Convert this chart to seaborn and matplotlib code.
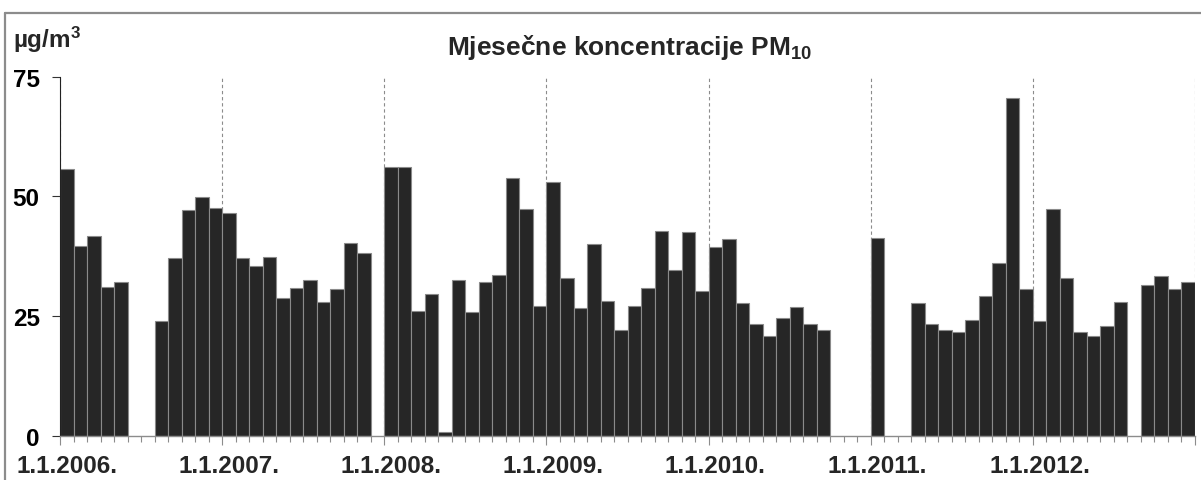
import numpy as np
import pandas as pd
import matplotlib
matplotlib.use('Agg')
import matplotlib.pyplot as plt
import seaborn as sns
from matplotlib.lines import Line2D

nan = np.nan

# mjesečne srednje vrijednosti PM10 (µg/m3), nan = nema podataka
years = [2006, 2007, 2008, 2009, 2010, 2011, 2012]
pm10_2006 = [55.7, 39.6, 41.8, 31.1, 32.1, nan, nan, 24.0, 37.2, 47.1, 49.9, 47.5]
pm10_2007 = [46.5, 37.2, 35.4, 37.4, 28.9, 30.9, 32.6, 27.9, 30.7, 40.3, 38.3, nan]
pm10_2008 = [56.1, 56.1, 26.0, 29.7, 0.9, 32.6, 25.8, 32.1, 33.7, 53.9, 47.3, 27.2]
pm10_2009 = [53.0, 32.9, 26.7, 40.1, 28.2, 22.2, 27.2, 30.9, 42.8, 34.6, 42.5, 30.2]
pm10_2010 = [39.4, 41.1, 27.7, 23.3, 20.9, 24.7, 26.9, 23.3, 22.2, nan, nan, nan]
pm10_2011 = [41.3, nan, nan, 27.7, 23.3, 22.2, 21.8, 24.2, 29.2, 36.1, 70.5, 30.7]
pm10_2012 = [24.0, 47.3, 32.9, 21.8, 20.9, 23.0, 27.9, nan, 31.6, 33.4, 30.7, 32.1]

year_labels = [f"1.1.{y}." for y in years]
y_ticks = [0, 25, 50, 75]

values = pm10_2006 + pm10_2007 + pm10_2008 + pm10_2009 + pm10_2010 + pm10_2011 + pm10_2012
months = [f"{y}-{m:02d}" for y in years for m in range(1, 13)]
df = pd.DataFrame({'month': months, 'pm10': values})

sns.set_style('white')
plt.rcParams['font.family'] = ['Liberation Sans', 'DejaVu Sans']
plt.rcParams['font.weight'] = 'bold'
plt.rcParams['mathtext.fontset'] = 'custom'
plt.rcParams['mathtext.rm'] = 'Liberation Sans:bold'
plt.rcParams['mathtext.bf'] = 'Liberation Sans:bold'
plt.rcParams['mathtext.default'] = 'rm'

fig = plt.figure(figsize=(12.01, 4.81), dpi=100)
ax = fig.add_axes([0.0502, 0.0915, 0.9446, 0.747])

sns.barplot(data=df, x='month', y='pm10', order=months, color='#262626',
            saturation=1, width=1.0, edgecolor='#8a8a8a', linewidth=0.8,
            errorbar=None, ax=ax)

n = len(months)
ax.set_xlim(-0.5, n - 0.5)
ax.set_ylim(0, 75)
ax.set_xlabel('')
ax.set_ylabel('')

# granice godina (duže crtice + isprekidane linije) i mjeseci
ax.set_xticks(np.arange(0, n + 1, 12) - 0.5)
ax.set_xticks(np.arange(n + 1) - 0.5, minor=True)
ax.tick_params(axis='x', which='major', bottom=True, length=6.5, width=0.8,
               color='#8c8c8c', labelbottom=False)
ax.tick_params(axis='x', which='minor', bottom=True, length=4.3, width=0.8,
               color='#8c8c8c')
ax.grid(axis='x', which='major', linestyle=(0, (3, 2.5)), color='#8c8c8c', lw=0.8)
ax.set_axisbelow(True)

ax.set_yticks(y_ticks)
ax.tick_params(axis='y', left=True, length=5.8, width=0.8, color='#333333',
               pad=9, labelsize=17.5, labelcolor='black')

sec = ax.secondary_xaxis('bottom')
sec.set_xticks(np.arange(0, n, 12), year_labels)
sec.tick_params(length=0, pad=13, labelsize=17.5)
sec.spines['bottom'].set_visible(False)

ax.spines['top'].set_visible(False)
ax.spines['right'].set_visible(False)
ax.spines['left'].set_color('#222222')
ax.spines['left'].set_linewidth(0.8)
ax.spines['bottom'].set_color('#8c8c8c')
ax.spines['bottom'].set_linewidth(1.0)

# okvir oko grafikona
top_y = 1 - 13.5 / 481
left_x = 5 / 1201
fig.add_artist(Line2D([left_x, 1], [top_y, top_y], color='#8c8c8c', lw=1.6))
fig.add_artist(Line2D([left_x, left_x], [0, top_y], color='#8c8c8c', lw=1.6))

fig.text(630 / 1201, 1 - 55 / 481, 'Mjesečne koncentracije PM$_{10}$',
         ha='center', va='baseline', fontsize=19, fontweight='bold')
fig.text(13 / 1201, 1 - 48 / 481, 'µg/m$^{3}$', ha='left', va='baseline',
         fontsize=17.5, fontweight='bold')

fig.savefig('out.png', dpi=100)
